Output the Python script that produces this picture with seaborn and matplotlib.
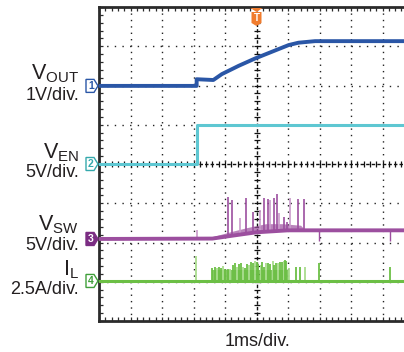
import numpy as np
import pandas as pd
import matplotlib
matplotlib.use("Agg")
import matplotlib.pyplot as plt
from matplotlib.patches import Polygon
import seaborn as sns

# ---------------- data (time in ms, level in divisions) ----------------
vout_t = [-5.05, -1.9, -1.9, -1.37, -1.10, -0.57, -0.04, 0.49, 1.02, 1.33, 1.86, 4.7]
vout_v = [1.99, 1.99, 2.16, 2.14, 2.29, 2.50, 2.69, 2.86, 3.03, 3.09, 3.13, 3.13]

ven_t = [-5.05, -1.9, -1.9, 4.7]
ven_v = [0.0, 0.0, 1.0, 1.0]

vsw_t = [-5.05, -1.4, -0.8, 0.0, 1.0, 1.5, 4.7]
vsw_v = [-1.91, -1.90, -1.83, -1.74, -1.69, -1.69, -1.69]
vsw_band_t = [-1.4, -0.8, -0.3, 0.3, 0.8, 1.4, 1.55]
vsw_band_top = [-1.85, -1.72, -1.62, -1.52, -1.52, -1.56, -1.69]
vsw_spk_t = [-1.90, -0.92, -0.78, -0.52, -0.34, -0.12, 0.12, 0.25, 0.36, 0.43,
             0.54, 0.64, 0.72, 0.86, 0.98, 1.07, 1.33, 1.52]
vsw_spk_top = [-1.68, -0.85, -0.92, -1.38, -0.87, -1.22, -1.17, -0.87, -0.89, -0.92,
               -0.87, -0.76, -1.25, -1.34, -1.47, -0.87, -0.89, -0.89]
vsw_dip_t = [1.99, 4.24]
vsw_dip_bot = [-1.95, -1.95]

il_t = [-5.05, 4.7]
il_v = [-2.98, -2.98]
il_spk_t = [-1.93, -1.40, -1.33, -1.26, -1.18, -1.12, -1.07, -0.99, -0.91, -0.84,
            -0.76, -0.68, -0.62, -0.55, -0.49, -0.43, -0.38, -0.31, -0.23, -0.17,
            -0.12, -0.06, 0.01, 0.06, 0.15, 0.19, 0.25, 0.30, 0.36, 0.43,
            0.51, 0.57, 0.61, 0.68, 0.75, 0.80, 0.86, 0.91, 0.95, 1.02,
            1.25, 1.39, 1.55, 1.97, 4.24]
il_spk_top = [-2.34, -2.66, -2.63, -2.64, -2.62, -2.64, -2.61, -2.68, -2.68, -2.68,
              -2.57, -2.53, -2.62, -2.55, -2.51, -2.62, -2.66, -2.56, -2.57, -2.49,
              -2.53, -2.47, -2.49, -2.56, -2.57, -2.49, -2.62, -2.53, -2.53, -2.56,
              -2.47, -2.57, -2.53, -2.51, -2.49, -2.49, -2.47, -2.45, -2.47, -2.66,
              -2.62, -2.62, -2.62, -2.53, -2.62]
il_band_t = [-1.40, 1.02]
il_band_top = [-2.70, -2.70]

ch_levels = [1.99, 0.0, -1.91, -2.98]
ch_names = ["1", "2", "3", "4"]
labels_main = [r"$\mathregular{V_{OUT}}$", r"$\mathregular{V_{EN}}$",
               r"$\mathregular{V_{SW}}$", r"$\mathregular{I_{L}}$"]
labels_scale = ["1V/div.", "5V/div.", "5V/div.", "2.5A/div."]
xlabel = "1ms/div."

# ---------------- style ----------------
sns.set_style("white")
plt.rcParams["font.family"] = ["Liberation Sans", "DejaVu Sans"]
plt.rcParams["mathtext.fontset"] = "custom"
plt.rcParams["mathtext.rm"] = "Liberation Sans"

c_vout = "#2a56a6"
c_ven = "#5ec7d2"
c_vsw = "#9c4f9f"
c_vsw_l = "#c99bcb"
c_il = "#6cbf45"
c_il_l = "#a9dc8e"
c_txt = "#231f20"

W, H = 404, 352
fig = plt.figure(figsize=(W / 100, H / 100), dpi=100)
ax_l, ax_r, ax_t, ax_b = 99, 404, 7, 321
ax = fig.add_axes([ax_l / W, 1 - ax_b / H, (ax_r - ax_l) / W, (ax_b - ax_t) / H])
px_per_ms = 31.5
ax.set_xlim(-5.0, -5.0 + (ax_r - ax_l) / px_per_ms)
ax.set_ylim(-4, 4)

# grid
for gx in range(-4, 5):
    if gx != 0:
        ax.axvline(gx, color="#222222", lw=1.0, ls=(0, (1, 3.6)), zorder=1)
for gy in range(-3, 4):
    if gy != 0:
        ax.axhline(gy, color="#222222", lw=1.0, ls=(0, (1, 4.5)), zorder=1)
ax.axvline(0, color="#111111", lw=1.0, ls=(0, (2.5, 1.5)), zorder=1)
ax.axhline(0, color="#111111", lw=1.0, ls=(0, (2.5, 1.5)), zorder=1)
ytk = np.arange(-4, 4.01, 0.2)
xtk = np.arange(-5, 4.7, 0.2)
ax.scatter(np.zeros_like(ytk), ytk, marker="_", s=14, color="#111111", lw=0.9, zorder=1)
ax.scatter(xtk, np.zeros_like(xtk), marker="|", s=14, color="#111111", lw=0.9, zorder=1)

# traces
df_vout = pd.DataFrame({"t": vout_t, "v": vout_v})
df_ven = pd.DataFrame({"t": ven_t, "v": ven_v})
df_vsw = pd.DataFrame({"t": vsw_t, "v": vsw_v})
df_il = pd.DataFrame({"t": il_t, "v": il_v})

ax.fill_between(vsw_band_t, np.interp(vsw_band_t, vsw_t, vsw_v), vsw_band_top,
                color=c_vsw, alpha=0.7, lw=0, zorder=3)
ax.vlines(vsw_spk_t, np.interp(vsw_spk_t, vsw_t, vsw_v), vsw_spk_top,
          colors=[c_vsw if i % 3 else c_vsw_l for i in range(len(vsw_spk_t))],
          lw=1.2, zorder=3)
ax.vlines(vsw_dip_t, np.interp(vsw_dip_t, vsw_t, vsw_v), vsw_dip_bot,
          colors=c_vsw, lw=1.0, zorder=3)
ax.fill_between(il_band_t, il_v[0], il_band_top, color=c_il, alpha=0.85, lw=0, zorder=3)
ax.vlines(il_spk_t, il_v[0], il_spk_top,
          colors=[c_il if i % 3 else c_il_l for i in range(len(il_spk_t))],
          lw=1.3, zorder=3)

sns.lineplot(data=df_il, x="t", y="v", ax=ax, color=c_il, lw=2.2,
             estimator=None, sort=False, zorder=4)
sns.lineplot(data=df_vsw, x="t", y="v", ax=ax, color=c_vsw, lw=2.8,
             estimator=None, sort=False, zorder=4)
sns.lineplot(data=df_ven, x="t", y="v", ax=ax, color=c_ven, lw=2.2,
             estimator=None, sort=False, zorder=4)
sns.lineplot(data=df_vout, x="t", y="v", ax=ax, color=c_vout, lw=2.8,
             estimator=None, sort=False, zorder=4)

# axes frame
for s in ["top", "left", "bottom"]:
    ax.spines[s].set_color("#2b2b2b")
    ax.spines[s].set_linewidth(2.0)
ax.spines["right"].set_visible(False)
ax.set_xticks(np.arange(-5, 4.7, 1))
ax.set_yticks(np.arange(-4, 4.01, 1))
ax.set_xticks(xtk, minor=True)
ax.set_yticks(ytk, minor=True)
ax.tick_params(which="both", direction="in", length=3, width=0.9, color="#2b2b2b",
               top=True, bottom=True, left=True, right=False,
               labelbottom=False, labelleft=False)
ax.set_xlabel("")
ax.set_ylabel("")

# channel markers
pw = 1 / (ax_r - ax_l)
ph = 8 / (ax_b - ax_t)
ytr = ax.get_yaxis_transform()
mk_edge = ["#2a56a6", "#35a9ad", "#7b2d83", "#3f9f3a"]
mk_face = ["white", "white", "#7b2d83", "white"]
mk_txt = ["#2a56a6", "#35a9ad", "white", "#3f9f3a"]
for lev, name, ec, fc, tc in zip(ch_levels, ch_names, mk_edge, mk_face, mk_txt):
    pts = [(-13, -6.5), (-5, -6.5), (-1, 0), (-5, 6.5), (-13, 6.5)]
    poly = Polygon([(x * pw, lev + y * ph) for x, y in pts], closed=True,
                   transform=ytr, facecolor=fc, edgecolor=ec, lw=1.0, clip_on=False, zorder=6)
    ax.add_patch(poly)
    ax.text(-8 * pw, lev - 0.3 * ph, name, transform=ytr, ha="center", va="center",
            fontsize=7.5, color=tc, fontweight="bold", clip_on=False, zorder=7)

# trigger marker
xtr = ax.get_xaxis_transform()
qx = 1 / px_per_ms
qy = 1 / (ax_b - ax_t)
tri = [(-6, -1), (6, -1), (0, -5)]
ax.add_patch(Polygon([(x * qx, 1 + y * qy) for x, y in tri], closed=True, transform=xtr,
                     facecolor="#f07c2e", edgecolor="none", clip_on=False, zorder=8))
body = [(-5, -5), (5, -5), (5, -16), (0, -19), (-5, -16)]
ax.add_patch(Polygon([(x * qx, 1 + y * qy) for x, y in body], closed=True, transform=xtr,
                     facecolor="#f07c2e", edgecolor="none", clip_on=False, zorder=8))
ax.text(0, 1 - 11 * qy, "T", transform=xtr, ha="center", va="center", fontsize=7,
        color="white", fontweight="bold", zorder=9)

# labels
def ftext(x, y, s, **kw):
    fig.text(x / W, 1 - y / H, s, **kw)

main_base = [79, 158, 230.5, 275.5]
scale_base = [100, 177, 250, 294]
for lm, ls_, yb1, yb2 in zip(labels_main, labels_scale, main_base, scale_base):
    ftext(79, yb1, lm, ha="right", va="baseline", fontsize=15.5, color=c_txt)
    ftext(79, yb2, ls_, ha="right", va="baseline", fontsize=13, color=c_txt)
ftext(257, 346, xlabel, ha="center", va="baseline", fontsize=13, color=c_txt)

fig.savefig("out.png", dpi=100)
